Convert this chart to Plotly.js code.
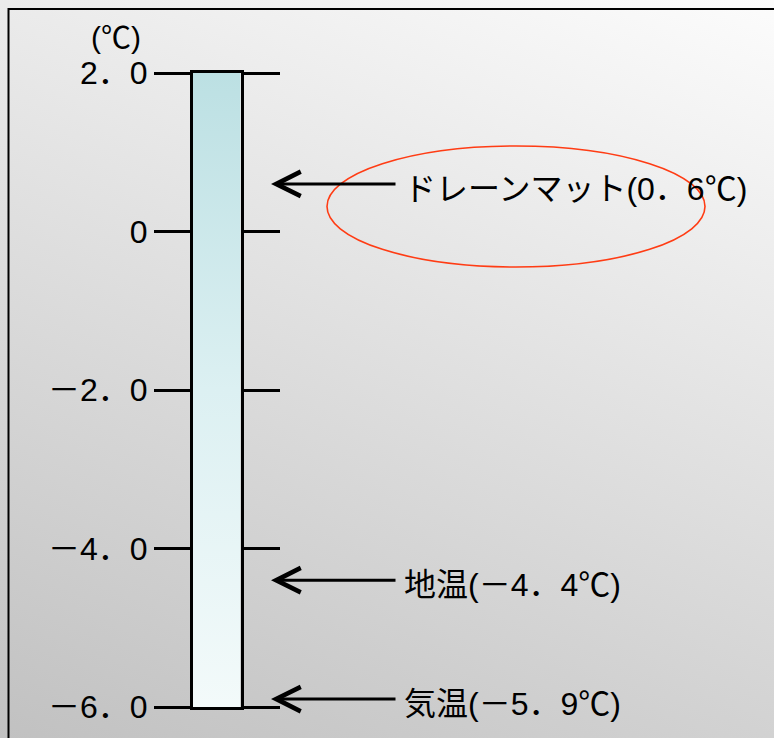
<!DOCTYPE html>
<html>
<head>
<meta charset="utf-8">
<script src="https://cdn.plot.ly/plotly-3.0.1.min.js"></script>
<style>
  html, body { margin: 0; padding: 0; }
  body {
    width: 774px; height: 738px; overflow: hidden;
    background: linear-gradient(201deg, rgb(252,252,252), rgb(193,193,193));
  }
  #chart { width: 774px; height: 738px; }
</style>
</head>
<body>
<div id="chart"></div>
<script>
// Temperature scale (℃) and its tick labels
const tickValues = [2, 0, -2, -4, -6];
const tickLabels = ['2．0', '0', '－2．0', '－4．0', '－6．0'];

// Measured temperatures
const readingNames = ['ドレーンマット', '地温', '気温'];
const readingValues = [0.6, -4.4, -5.9];

const scaleMin = Math.min(...tickValues);
const scaleMax = Math.max(...tickValues);

const W = 774, H = 738;
const M = { l: 0, r: 0, t: 73, b: 31 };
const plotH = H - M.t - M.b;
const px = v => v / W;                    // page x (px) -> paper x
const py = v => (H - M.b - v) / plotH;    // page y (px) -> paper y

function fmt(v) {
  const s = Math.abs(v).toFixed(1).replace('.', '．');
  return (v < 0 ? '－' : '') + s;
}

// Latin digits from Liberation Sans, kana/kanji and full-width marks from Noto CJK
const FONT = 'Liberation Sans, Noto Sans CJK JP, sans-serif';
const textFont = { family: FONT, size: 32, color: '#000' };

// Thermometer column filled with a vertical gradient
const column = {
  type: 'scatter',
  mode: 'lines',
  x: [0, 1, 1, 0],
  y: [scaleMin, scaleMin, scaleMax, scaleMax],
  fill: 'toself',
  fillgradient: {
    type: 'vertical',
    colorscale: [[0, '#f3fafa'], [0.5, '#dcf0f2'], [1, '#bce0e3']]
  },
  line: { width: 0 },
  hoverinfo: 'skip',
  showlegend: false
};

const annotations = [];
readingValues.forEach((v, i) => {
  // arrow pointing at the reading
  annotations.push({
    xref: 'paper', yref: 'y',
    x: px(271), y: v,
    axref: 'pixel', ayref: 'pixel',
    ax: 126, ay: 0,
    text: '',
    showarrow: true,
    arrowhead: 5, arrowsize: 1.6, arrowwidth: 3, arrowcolor: '#000'
  });
  // label with the value
  annotations.push({
    xref: 'paper', yref: 'y',
    x: px(402), y: v,
    xanchor: 'left', yanchor: 'middle',
    yshift: -5,
    text: readingNames[i] + '(' + fmt(v) + '℃)',
    showarrow: false,
    font: textFont
  });
});
// unit label
annotations.push({
  xref: 'paper', yref: 'paper',
  x: px(116), y: py(38),
  xanchor: 'center', yanchor: 'middle',
  text: '(℃)',
  showarrow: false,
  font: { family: FONT, size: 30, color: '#000' }
});

const layout = {
  width: W, height: H,
  margin: M,
  paper_bgcolor: 'rgba(0,0,0,0)',
  plot_bgcolor: 'rgba(0,0,0,0)',
  showlegend: false,
  xaxis: {
    domain: [px(193), px(240.5)],
    range: [0, 1],
    showline: true, mirror: true, linewidth: 3, linecolor: '#000',
    showgrid: false, zeroline: false, showticklabels: false, ticks: ''
  },
  yaxis: {
    range: [scaleMin, scaleMax],
    tickmode: 'array', tickvals: tickValues, ticktext: tickLabels,
    ticks: 'outside', ticklen: 36, tickwidth: 3, tickcolor: '#000',
    showline: true, linewidth: 3, linecolor: '#000', mirror: 'ticks',
    showgrid: false, zeroline: false,
    tickfont: textFont
  },
  annotations: annotations,
  shapes: [
    // outer frame
    {
      type: 'rect', xref: 'paper', yref: 'paper',
      x0: px(8.5), x1: px(790), y0: py(760), y1: py(9),
      line: { color: '#000', width: 2 }, fillcolor: 'rgba(0,0,0,0)'
    },
    // highlight ring around the drain-mat reading
    {
      type: 'circle', xref: 'paper', yref: 'paper',
      x0: px(327), x1: px(705), y0: py(267), y1: py(146),
      line: { color: '#ff3c14', width: 1.6 }, fillcolor: 'rgba(0,0,0,0)'
    }
  ]
};

Plotly.newPlot('chart', [column], layout, { staticPlot: true, displayModeBar: false });
</script>
</body>
</html>
